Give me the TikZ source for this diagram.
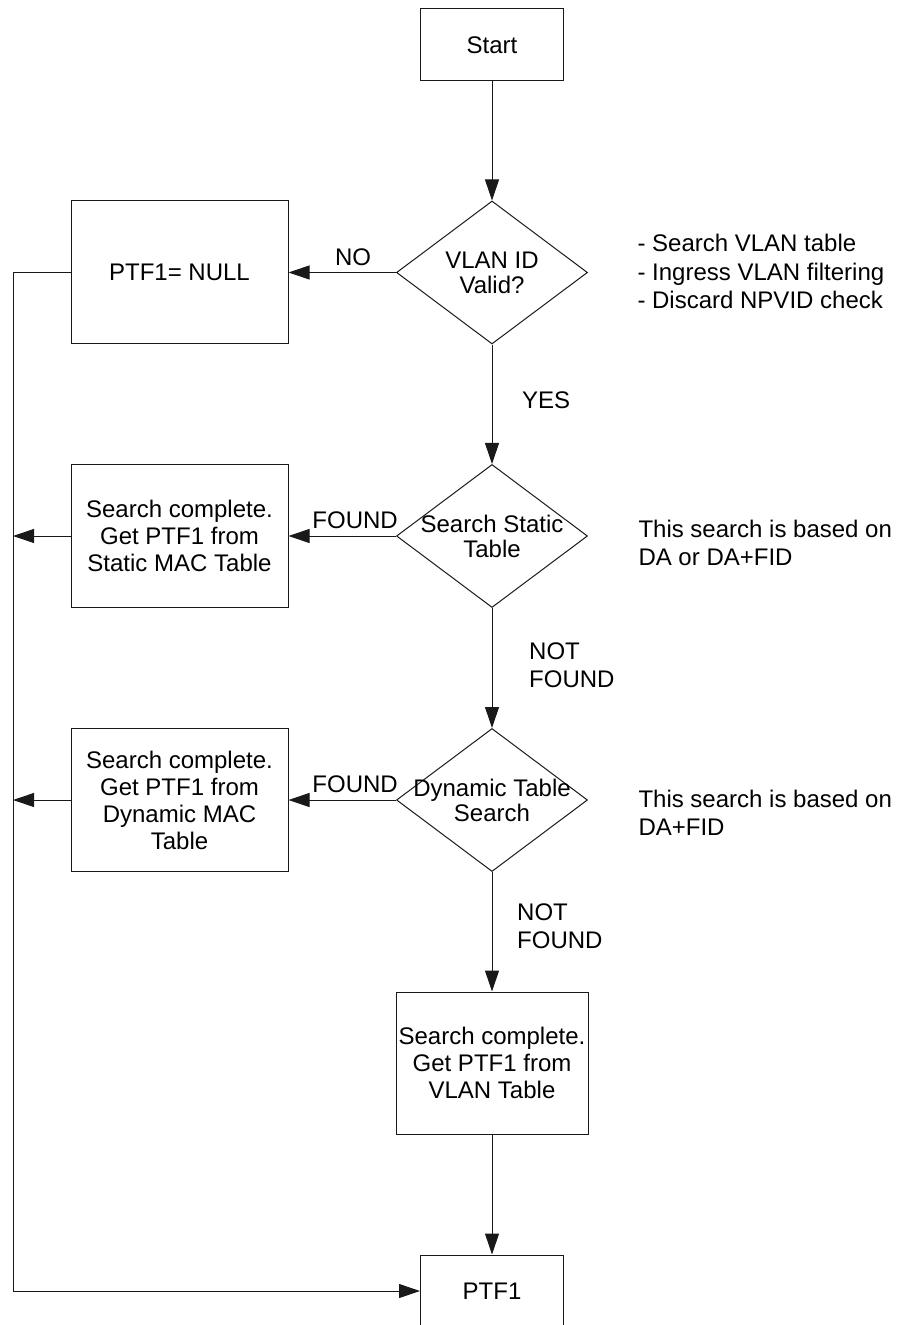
\documentclass[tikz,border=0pt]{standalone}
\usepackage{fontspec}
\setmainfont{Liberation Sans}
\usetikzlibrary{shapes.geometric}
\usetikzlibrary{arrows.meta}

\tikzset{
  box/.style={draw, rectangle, align=center, inner sep=1pt, font=\fontsize{12}{13.5}\selectfont},
  decision/.style={draw, diamond, inner sep=0pt, minimum width=95.5pt, minimum height=71.5pt},
  decisiontext/.style={align=center, inner sep=0pt, font=\fontsize{12}{12.5}\selectfont},
  note/.style={align=left, anchor=west, inner sep=0pt, font=\fontsize{12}{14.25}\selectfont},
}

\begin{document}
\begin{tikzpicture}[x=0.5pt, y=-0.5pt, line width=0.5pt, draw=black!90,
  >={Triangle[length=10.5pt,width=7pt]}, font=\fontsize{12}{14}\selectfont]
\useasboundingbox (0,0) rectangle (896,1325);

% main column
\node[box, minimum width=71.5pt, minimum height=36pt] (start) at (492,45) {Start};
\node[decision, label={[decisiontext]center:VLAN ID\\Valid?}] (vlan) at (492,272.5) {};
\node[decision, label={[decisiontext]center:Search Static\\Table}] (static) at (492,536) {};
\node[decision, label={[decisiontext]center:Dynamic Table\\Search}] (dynamic) at (492,800) {};
\node[box, minimum width=96pt, minimum height=71pt] (vlanbox) at (492,1063)
  {Search complete.\\Get PTF1 from\\VLAN Table};
\node[box, minimum width=71.5pt, minimum height=36pt] (ptf) at (492,1291) {PTF1};

% left column
\node[box, minimum width=108.5pt, minimum height=71.5pt] (nullbox) at (179.5,272.5) {PTF1= NULL};
\node[box, minimum width=108.5pt, minimum height=71.5pt] (staticbox) at (179.5,536)
  {Search complete.\\Get PTF1 from\\Static MAC Table};
\node[box, minimum width=108.5pt, minimum height=71.5pt] (dynbox) at (179.5,800)
  {Search complete.\\Get PTF1 from\\Dynamic MAC\\Table};

% notes
\node[note] (vlannote) at (637,271.5) {- Search VLAN table\\- Ingress VLAN filtering\\- Discard NPVID check};
\node[note] (staticnote) at (638,543) {This search is based on\\DA or DA+FID};
\node[note] (dynnote) at (638,813) {This search is based on\\DA+FID};

% connectors
\coordinate (bus) at (13,0);
\draw[->] (start) -- (vlan);
\draw[->] (vlan) -- node[right=11.5pt, pos=0.47] {YES} (static);
\draw[->] (static) -- node[right=15pt, pos=0.48, align=left] {NOT\\FOUND} (dynamic);
\draw[->] (dynamic) -- node[right=9pt, pos=0.45, align=left] {NOT\\FOUND} (vlanbox);
\draw[->] (vlanbox) -- (ptf);
\draw[->] (vlan.west) -- node[above, pos=0.4] {NO} (nullbox.east);
\draw[->] (static.west) -- node[above, pos=0.38] {FOUND} (staticbox.east);
\draw[->] (dynamic.west) -- node[above, pos=0.38] {FOUND} (dynbox.east);
\draw[->] (nullbox.west) -- (nullbox.west -| bus) |- (ptf.west);
\draw[->] (staticbox.west) -- (staticbox.west -| bus);
\draw[->] (dynbox.west) -- (dynbox.west -| bus);
\end{tikzpicture}
\end{document}
